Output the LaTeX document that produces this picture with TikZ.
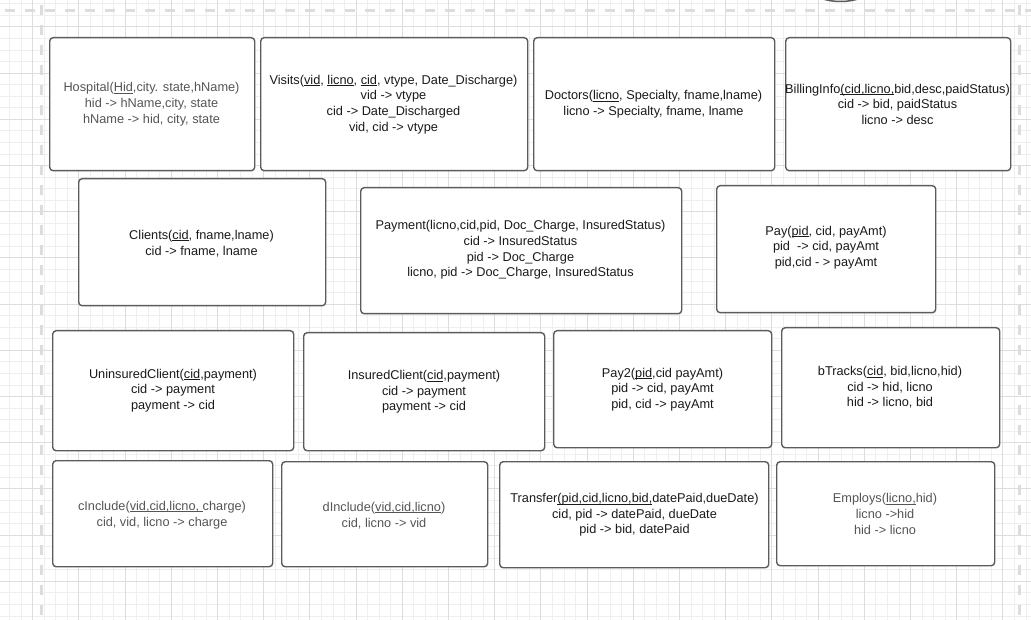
\documentclass[tikz,border=0pt]{standalone}
\usepackage{fontspec}
\setmainfont{Liberation Sans}
\definecolor{gridminor}{HTML}{EFEFEF}
\definecolor{gridmajor}{HTML}{DDDDDD}
\definecolor{dashcol}{HTML}{DCDCDC}
\definecolor{boxline}{HTML}{5C5C5C}
\definecolor{txtdark}{HTML}{1A1A1A}
\definecolor{txtgray}{HTML}{555555}
\newcommand\myul[1]{\leavevmode\setbox0\hbox{#1}\rlap{\rule[-1.6pt]{\wd0}{0.7pt}}\box0}
\begin{document}
\begin{tikzpicture}[x=1pt,y=-1pt,
  box/.style={draw=boxline,line width=1.4pt,rounded corners=3.5pt,fill=white,anchor=north west,inner sep=0pt},
  txt/.style={align=center,inner sep=0pt,text=txtdark,font=\fontsize{12.75}{15.6}\selectfont},
  gtxt/.style={txt,text=txtgray},
  gminor/.style={draw=gridminor,line width=0.85pt},
  gmajor/.style={draw=gridmajor,line width=1pt},
  pagedash/.style={draw=dashcol,line width=2.6pt,dash pattern=on 10pt off 10pt,dash phase=15pt}]
\useasboundingbox (0,0) rectangle (1031,620);
\fill[white] (0,0) rectangle (1031,620);
% grid
\foreach \k in {-2,...,86} {\draw[gminor] ({32.7+11.55*\k},0) -- ({32.7+11.55*\k},620);}
\foreach \k in {-2,...,51} {\draw[gminor] (0,{26.9+11.55*\k}) -- (1031,{26.9+11.55*\k});}
\foreach \k in {-1,...,22} {\draw[gmajor] ({32.7+46.2*\k},0) -- ({32.7+46.2*\k},620);}
\foreach \k in {-1,...,13} {\draw[gmajor] (0,{26.9+46.2*\k}) -- (1031,{26.9+46.2*\k});}
% page borders
\draw[pagedash] (0,10.3) -- (1031,10.3);
\draw[pagedash] (41.3,0) -- (41.3,620);
\draw[pagedash] (1019.3,0) -- (1019.3,620);
% partial shape at top
\draw[boxline,line width=1.5pt] (840.5,-60) circle[radius=61.5];
% row 1
\node[box,minimum width=205pt,minimum height=133pt] (hosp) at (49,37) {};
\node[box,minimum width=267pt,minimum height=133pt] (visits) at (260,37) {};
\node[box,minimum width=241pt,minimum height=133pt] (doctors) at (533,37) {};
\node[box,minimum width=225pt,minimum height=133pt] (billing) at (785,37) {};
% row 2
\node[box,minimum width=247pt,minimum height=127pt] (clients) at (78,178) {};
\node[box,minimum width=321pt,minimum height=126pt] (payment) at (360,187) {};
\node[box,minimum width=219pt,minimum height=127pt] (pay) at (716,185) {};
% row 3
\node[box,minimum width=241pt,minimum height=120pt] (unins) at (52,330) {};
\node[box,minimum width=241pt,minimum height=118pt] (ins) at (303,332) {};
\node[box,minimum width=218pt,minimum height=117pt] (pay2) at (553,330) {};
\node[box,minimum width=218pt,minimum height=120pt] (btracks) at (781,327) {};
% row 4
\node[box,minimum width=220pt,minimum height=106pt] (cinc) at (52,460) {};
\node[box,minimum width=206pt,minimum height=105pt] (dinc) at (281,461) {};
\node[box,minimum width=269pt,minimum height=106pt] (transfer) at (499,461) {};
\node[box,minimum width=218pt,minimum height=104pt] (employs) at (776,461) {};
% texts
\node[gtxt] (hospT) at (151.5,104.3) {Hospital(\myul{Hid},city. state,hName)\\hid -> hName,city, state\\hName -> hid, city, state};
\node[txt] (visitsT) at (393.5,104.5) {Visits(\myul{vid}, \myul{licno}, \myul{cid}, vtype, Date\_Discharge)\\vid -> vtype\\cid -> Date\_Discharged\\vid, cid -> vtype};
\node[txt] (doctorsT) at (653.5,104.5) {Doctors(\myul{licno}, Specialty, fname,lname)\\licno -> Specialty, fname, lname};
\node[txt] (billingT) at (897.5,104.3) {BillingInfo\myul{(cid,licno,}bid,desc,paidStatus)\\cid -> bid, paidStatus\\licno -> desc};
\node[txt] (clientsT) at (201.5,243.5) {Clients(\myul{cid}, fname,lname)\\cid -> fname, lname};
\node[txt] (paymentT) at (520.5,250) {Payment(licno,cid,pid, Doc\_Charge, InsuredStatus)\\cid -> InsuredStatus\\pid -> Doc\_Charge\\licno, pid -> Doc\_Charge, InsuredStatus};
\node[txt] (payT) at (826,247.5) {Pay(\myul{pid}, cid, payAmt)\\pid~ -> cid, payAmt\\pid,cid - > payAmt};
\node[txt] (uninsT) at (173,390.5) {UninsuredClient(\myul{cid},payment)\\cid -> payment\\payment -> cid};
\node[txt] (insT) at (424,392) {InsuredClient(\myul{cid},payment)\\cid -> payment\\payment -> cid};
\node[txt] (pay2T) at (662.5,389.5) {Pay2(\myul{pid},cid payAmt)\\pid -> cid, payAmt\\pid, cid -> payAmt};
\node[txt] (btracksT) at (890,387.5) {bTracks(\myul{cid}, bid,licno,hid)\\cid -> hid, licno\\hid -> licno, bid};
\node[gtxt] (cincT) at (162,515) {cInclude(\myul{vid,cid,licno,\ }charge)\\cid, vid, licno -> charge};
\node[gtxt] (dincT) at (384,515.5) {dInclude(\myul{vid,cid,licno})\\cid, licno -> vid};
\node[txt] (transferT) at (634.5,515) {Transfer\myul{(pid,cid,licno,bid,}datePaid,dueDate)\\cid, pid -> datePaid, dueDate\\pid -> bid, datePaid};
\node[gtxt] (employsT) at (885,514) {Employs(\myul{licno,}hid)\\licno ->hid\\hid -> licno};
\end{tikzpicture}
\end{document}
